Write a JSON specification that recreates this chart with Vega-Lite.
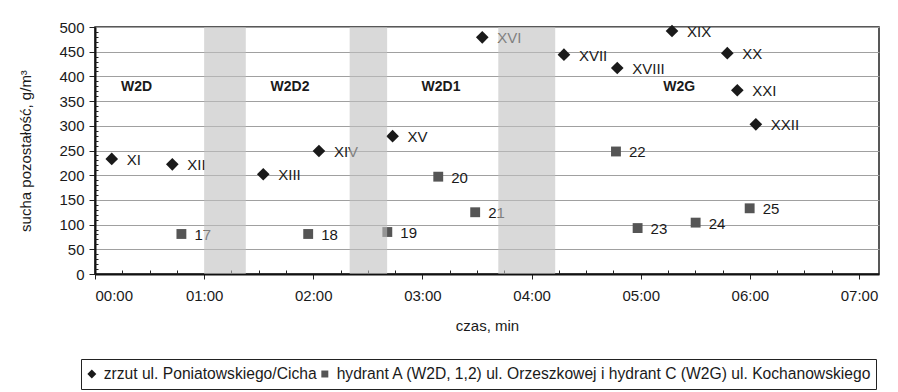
{
  "$schema": "https://vega.github.io/schema/vega-lite/v6.json",
  "width": 784,
  "height": 247,
  "autosize": "none",
  "padding": {"left": 95, "top": 27, "right": 19, "bottom": 118},
  "background": "white",
  "config": {
    "font": "Liberation Sans",
    "view": {"stroke": "#222", "strokeWidth": 1.5},
    "axis": {"labelColor": "#1a1a1a", "titleColor": "#1a1a1a", "tickColor": "#222", "domainColor": "#111", "domainWidth": 2, "labelFont": "Liberation Sans", "titleFont": "Liberation Sans", "titleFontWeight": "normal"},
    "legend": {"labelFont": "Liberation Sans"}
  },
  "datasets": {
    "pts": [
      {"czas": 9.2, "v": 233, "nr": "XI", "seria": "zrzut ul. Poniatowskiego/Cicha"},
      {"czas": 42.5, "v": 222, "nr": "XII", "seria": "zrzut ul. Poniatowskiego/Cicha"},
      {"czas": 92.5, "v": 202, "nr": "XIII", "seria": "zrzut ul. Poniatowskiego/Cicha"},
      {"czas": 123.1, "v": 249, "nr": "XIV", "seria": "zrzut ul. Poniatowskiego/Cicha"},
      {"czas": 163.6, "v": 279, "nr": "XV", "seria": "zrzut ul. Poniatowskiego/Cicha"},
      {"czas": 212.9, "v": 479, "nr": "XVI", "seria": "zrzut ul. Poniatowskiego/Cicha"},
      {"czas": 257.8, "v": 444, "nr": "XVII", "seria": "zrzut ul. Poniatowskiego/Cicha"},
      {"czas": 287.1, "v": 417, "nr": "XVIII", "seria": "zrzut ul. Poniatowskiego/Cicha"},
      {"czas": 317.2, "v": 492, "nr": "XIX", "seria": "zrzut ul. Poniatowskiego/Cicha"},
      {"czas": 347.6, "v": 447, "nr": "XX", "seria": "zrzut ul. Poniatowskiego/Cicha"},
      {"czas": 353.1, "v": 372, "nr": "XXI", "seria": "zrzut ul. Poniatowskiego/Cicha"},
      {"czas": 363.3, "v": 303, "nr": "XXII", "seria": "zrzut ul. Poniatowskiego/Cicha"},
      {"czas": 47.5, "v": 81, "nr": "17", "seria": "hydrant A (W2D, 1,2) ul. Orzeszkowej i hydrant C (W2G) ul. Kochanowskiego"},
      {"czas": 117.2, "v": 81, "nr": "18", "seria": "hydrant A (W2D, 1,2) ul. Orzeszkowej i hydrant C (W2G) ul. Kochanowskiego"},
      {"czas": 160.7, "v": 85, "nr": "19", "seria": "hydrant A (W2D, 1,2) ul. Orzeszkowej i hydrant C (W2G) ul. Kochanowskiego"},
      {"czas": 188.7, "v": 197, "nr": "20", "seria": "hydrant A (W2D, 1,2) ul. Orzeszkowej i hydrant C (W2G) ul. Kochanowskiego"},
      {"czas": 209.0, "v": 125, "nr": "21", "seria": "hydrant A (W2D, 1,2) ul. Orzeszkowej i hydrant C (W2G) ul. Kochanowskiego"},
      {"czas": 286.4, "v": 248, "nr": "22", "seria": "hydrant A (W2D, 1,2) ul. Orzeszkowej i hydrant C (W2G) ul. Kochanowskiego"},
      {"czas": 298.3, "v": 93, "nr": "23", "seria": "hydrant A (W2D, 1,2) ul. Orzeszkowej i hydrant C (W2G) ul. Kochanowskiego"},
      {"czas": 330.2, "v": 104, "nr": "24", "seria": "hydrant A (W2D, 1,2) ul. Orzeszkowej i hydrant C (W2G) ul. Kochanowskiego"},
      {"czas": 359.9, "v": 133, "nr": "25", "seria": "hydrant A (W2D, 1,2) ul. Orzeszkowej i hydrant C (W2G) ul. Kochanowskiego"}
    ],
    "regions": [
      {"czas": 22.9, "v": 378, "name": "W2D"},
      {"czas": 107.2, "v": 378, "name": "W2D2"},
      {"czas": 190.2, "v": 378, "name": "W2D1"},
      {"czas": 321.2, "v": 378, "name": "W2G"}
    ],
    "bands": [
      {"start": 60, "end": 82.9},
      {"start": 140, "end": 160.6},
      {"start": 221.7, "end": 253}
    ]
  },
  "resolve": {"axis": {"x": "independent", "y": "independent"}},
  "layer": [
    {
      "data": {"name": "pts"},
      "mark": {"type": "point", "filled": true, "opacity": 1, "size": 160},
      "encoding": {
        "x": {
          "field": "czas", "type": "quantitative",
          "scale": {"domain": [0, 431], "nice": false, "zero": true},
          "axis": {
            "orient": "bottom",
            "values": [0, 60, 120, 180, 240, 300, 360, 420],
            "labelExpr": "'0' + (datum.value / 60) + ':00'",
            "title": "czas, min", "titleFontSize": 15, "titlePadding": 15,
            "labelFontSize": 15, "labelPadding": 9, "tickSize": 5, "grid": false
          }
        },
        "y": {
          "field": "v", "type": "quantitative",
          "scale": {"domain": [0, 500], "nice": false},
          "axis": {
            "orient": "left",
            "values": [0, 50, 100, 150, 200, 250, 300, 350, 400, 450, 500],
            "title": "sucha pozostałość, g/m³", "titleFontSize": 15, "titlePadding": 25,
            "labelFontSize": 15, "labelPadding": 5, "tickSize": 6,
            "grid": true, "gridColor": "#a0a0a0", "gridWidth": 1
          }
        },
        "shape": {
          "field": "seria", "type": "nominal",
          "scale": {"domain": ["zrzut ul. Poniatowskiego/Cicha", "hydrant A (W2D, 1,2) ul. Orzeszkowej i hydrant C (W2G) ul. Kochanowskiego"], "range": ["M-1,0L0,-1L1,0L0,1Z", "M-0.78,-0.78H0.78V0.78H-0.78Z"]},
          "legend": {
            "title": null, "orient": "none", "legendX": -14, "legendY": 332,
            "direction": "horizontal", "strokeColor": "#222", "padding": 3, "clipHeight": 24,
            "labelFontSize": 15.65, "labelColor": "#1a1a1a", "labelLimit": 1000,
            "symbolSize": 80, "columnPadding": 0, "labelOffset": 4, "symbolStrokeWidth": 0
          }
        },
        "color": {
          "field": "seria", "type": "nominal",
          "scale": {"domain": ["zrzut ul. Poniatowskiego/Cicha", "hydrant A (W2D, 1,2) ul. Orzeszkowej i hydrant C (W2G) ul. Kochanowskiego"], "range": ["#1a1a1a", "#555555"]},
          "legend": {
            "title": null, "orient": "none", "legendX": -14, "legendY": 332,
            "direction": "horizontal", "strokeColor": "#222", "padding": 3, "clipHeight": 24,
            "labelFontSize": 15.65, "labelColor": "#1a1a1a", "labelLimit": 1000,
            "symbolSize": 80, "columnPadding": 0, "labelOffset": 4, "symbolStrokeWidth": 0
          }
        }
      }
    },
    {
      "data": {"name": "pts"},
      "mark": {"type": "point", "opacity": 0},
      "encoding": {
        "x": {
          "field": "czas", "type": "quantitative",
          "axis": {
            "orient": "bottom",
            "values": [15, 30, 45, 75, 90, 105, 135, 150, 165, 195, 210, 225, 255, 270, 285, 315, 330, 345, 375, 390, 405],
            "labels": false, "domain": false, "grid": false, "title": null, "tickSize": -4
          }
        },
        "y": {
          "field": "v", "type": "quantitative",
          "axis": {
            "orient": "left",
            "values": [10, 20, 30, 40, 60, 70, 80, 90, 110, 120, 130, 140, 160, 170, 180, 190, 210, 220, 230, 240, 260, 270, 280, 290, 310, 320, 330, 340, 360, 370, 380, 390, 410, 420, 430, 440, 460, 470, 480, 490],
            "labels": false, "domain": false, "grid": false, "title": null, "tickSize": -3
          }
        }
      }
    },
    {
      "data": {"name": "pts"},
      "transform": [{"filter": "datum.seria == 'zrzut ul. Poniatowskiego/Cicha'"}],
      "mark": {"type": "text", "align": "left", "baseline": "middle", "dx": 15, "dy": 1, "fontSize": 15, "color": "#1a1a1a"},
      "encoding": {
        "x": {"field": "czas", "type": "quantitative", "axis": null},
        "y": {"field": "v", "type": "quantitative", "axis": null},
        "text": {"field": "nr"}
      }
    },
    {
      "data": {"name": "pts"},
      "transform": [{"filter": "datum.seria != 'zrzut ul. Poniatowskiego/Cicha'"}],
      "mark": {"type": "text", "align": "left", "baseline": "middle", "dx": 13, "dy": 1, "fontSize": 15, "color": "#1a1a1a"},
      "encoding": {
        "x": {"field": "czas", "type": "quantitative", "axis": null},
        "y": {"field": "v", "type": "quantitative", "axis": null},
        "text": {"field": "nr"}
      }
    },
    {
      "data": {"name": "regions"},
      "mark": {"type": "text", "align": "center", "baseline": "middle", "fontSize": 14, "fontWeight": "bold", "color": "#1a1a1a"},
      "encoding": {
        "x": {"field": "czas", "type": "quantitative", "axis": null},
        "y": {"field": "v", "type": "quantitative", "axis": null},
        "text": {"field": "name"}
      }
    },
    {
      "data": {"name": "bands"},
      "mark": {"type": "rect", "color": "#bfbfbf", "opacity": 0.6},
      "encoding": {
        "x": {"field": "start", "type": "quantitative", "axis": null},
        "x2": {"field": "end"}
      }
    }
  ]
}
